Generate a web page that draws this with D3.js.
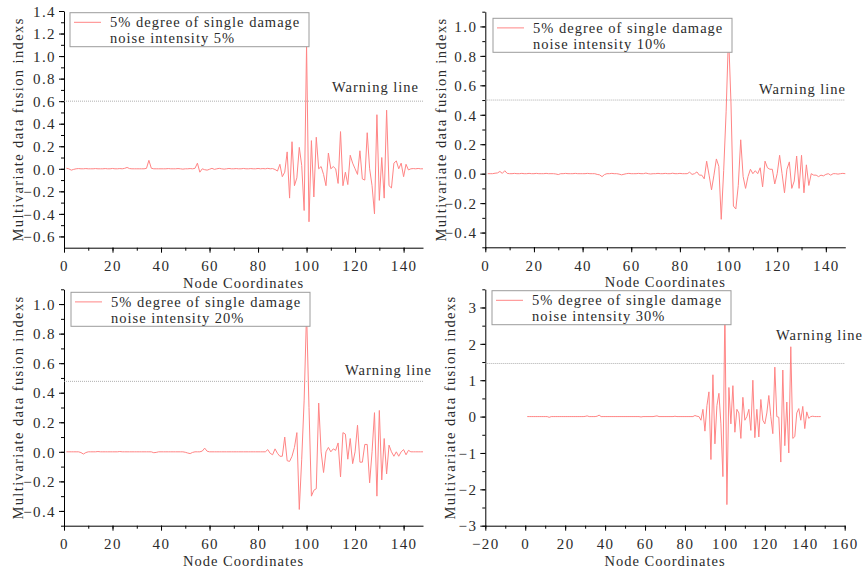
<!DOCTYPE html>
<html>
<head>
<meta charset="utf-8">
<script src="https://cdn.jsdelivr.net/npm/d3@7"></script>
<style>
  body { margin: 0; background: #fff; }
  text { font-family: "Liberation Serif", "DejaVu Serif", serif; fill: #2b2b2b; }
  .axis path, .axis line { stroke: #000; }
  .axis text { font-size: 15px; letter-spacing: 1.4px; }
  .lbl { font-size: 14.5px; letter-spacing: 1px; }
  .ytitle { font-size: 14.5px; letter-spacing: 1.4px; }
</style>
</head>
<body>
<div id="chart"></div>
<script>
// Node index runs 1..148 in every panel
var nodeCount = 148;

// Panel titles / legend text
var legendTitle = "5% degree of single damage";
var noiseLabels = ["noise intensity 5%", "noise intensity 10%", "noise intensity 20%", "noise intensity 30%"];
var warningLevels = [0.6, 0.5, 0.477, 1.46];

// Fusion index values (node 1 .. 148)
var noise5 = [
  0.005, 0, -0.012, -0.005, 0, 0.002, 0, 0, 0.002, 0,
  0, 0, 0.002, 0, 0, 0, 0.002, 0, 0, 0.003,
  0, 0, 0.002, 0, 0.004, 0.012, 0.002, 0, 0, 0,
  0, 0, 0, 0.004, 0.075, 0.005, 0, 0, 0, 0,
  0, 0, 0.002, 0, 0, 0, 0.002, 0, -0.003, 0,
  0, 0.002, 0, 0.004, 0.05, -0.03, 0, -0.008, -0.012, -0.004,
  0.004, -0.005, 0, 0.004, 0, -0.003, 0, 0.003, 0, 0,
  0.002, 0, 0, 0.003, 0, 0, 0.002, 0, 0, 0.003,
  0, 0.002, 0, 0.004, 0, 0.002, -0.006, -0.02, 0.04, -0.07,
  -0.03, 0.15, -0.26, 0.24, -0.15, -0.08, 0.19, 0.03, -0.37, 1.1,
  -0.47, 0.25, -0.25, 0.28, 0.0, 0.02, -0.05, -0.15, 0.14, 0.0,
  0.02, 0.0, -0.13, 0.33, -0.15, -0.03, -0.14, 0.12, 0.05, 0.0,
  -0.05, 0.16, -0.09, -0.1, 0.32, 0.0, -0.15, -0.4, 0.48, -0.28,
  0.1, -0.26, 0.52, -0.15, -0.17, 0.05, 0.07, 0.0, 0.05, -0.07,
  0.04, -0.01, 0.0, 0.002, 0, 0.003, 0, 0
];

var noise10 = [
  0, 0, 0, 0.003, 0.005, 0.015, 0.002, 0.02, 0.002, 0,
  0, 0.002, 0, 0, 0.002, 0, 0, 0.002, 0, 0,
  0.002, 0, 0, 0, 0.002, 0, 0, 0, -0.002, -0.006,
  0, 0, 0.002, 0, 0, 0, 0.002, 0, 0, 0,
  0, 0.002, 0, 0, 0, -0.005, -0.008, -0.02, -0.006, 0,
  0, 0.002, 0, 0, -0.003, -0.008, -0.004, 0, 0.002, 0,
  0, 0, 0.002, 0, 0, 0.004, 0, -0.002, 0, 0,
  0.002, 0, 0, 0.002, 0, 0, 0.003, 0, 0, 0.002,
  0, 0, 0, 0.01, -0.005, 0, 0.012, -0.01, -0.01, -0.035,
  0.085, -0.01, -0.11, -0.01, 0.1, 0.05, -0.31, 0.02, 0.42, 0.95,
  0.48, -0.22, -0.24, -0.08, 0.23, -0.02, -0.1, -0.02, 0.03, 0.0,
  0.02, 0.0, 0.04, -0.09, 0.085, 0.04, 0.03, 0.03, -0.07, 0.0,
  0.125, 0.0, -0.13, 0.03, 0.08, -0.1, -0.05, 0.12, -0.1, 0.125,
  -0.13, 0.06, -0.08, 0.0, -0.01, -0.01, -0.02, -0.01, -0.015, -0.005,
  0.0, -0.01, 0.0, 0.0, -0.003, 0.0, 0.002, 0
];

var noise20 = [
  0, 0, 0, 0, 0, 0, -0.005, -0.015, -0.005, 0,
  0, 0, 0, 0.002, 0, 0, 0, 0, 0, 0,
  0, 0, 0.002, 0, 0, 0, 0, 0, 0, 0,
  0, 0, 0, 0, 0, 0, -0.006, -0.004, 0, 0,
  0, 0, 0, 0, 0, 0, 0, 0, 0, -0.003,
  -0.008, -0.012, -0.004, 0, 0, 0, 0.005, 0.025, 0.004, 0,
  0, 0, 0, 0, 0, 0, 0, 0, 0, 0,
  0, 0, 0, 0, 0, 0, 0, 0, 0, 0,
  0, 0, 0, 0.015, -0.01, -0.02, 0.02, -0.01, -0.03, -0.03,
  0.1, -0.06, -0.065, -0.03, 0.03, 0.13, -0.39, -0.05, 0.35, 0.95,
  0.3, -0.3, -0.26, -0.25, 0.33, 0.0, -0.14, 0.0, 0.03, 0.0,
  0.02, 0.01, 0.06, -0.17, 0.13, 0.12, -0.05, 0.09, -0.08, 0.0,
  0.18, -0.07, -0.07, 0.05, 0.05, -0.21, 0.0, 0.265, -0.3, 0.28,
  -0.19, 0.09, -0.15, 0.045, 0.0, -0.03, 0.0, -0.03, 0.0, 0.015,
  -0.02, 0.01, 0.0, 0, 0, 0, 0, 0
];

var noise30 = [
  0, 0, 0, 0, 0, 0, 0, 0, 0, 0,
  0, -0.02, 0, 0, 0, 0, 0, 0, 0, 0,
  0, 0, 0, 0, 0, 0, 0, 0, 0, 0.005,
  0.02, 0, 0, 0, 0, 0.01, 0.04, 0, 0, 0,
  0, 0, 0, 0, 0, 0, 0, 0, 0, 0,
  0, 0, 0, 0, 0, 0, 0, -0.01, 0, 0,
  0, 0, 0, 0, 0.01, 0.02, 0, 0, 0, 0,
  0, 0, 0, 0, 0.01, 0, 0, 0, 0, 0,
  0, 0, 0, 0, 0.03, 0.01, 0.0, -0.1, 0.2, -0.4,
  0.3, 0.68, -1.18, 1.15, -0.75, 0.3, 0.64, -0.2, -1.65, 3.0,
  -2.42, 0.8, -0.2, 0.85, -0.43, 0.2, 0.1, -0.6, 0.53, -0.1,
  0.0, 0.2, -0.38, 1.0, -0.58, 0.2, -0.56, 0.47, -0.1, -0.2,
  0.1, 0.58, 0.0, -0.47, 1.36, 0.0, -0.02, -1.25, 1.28, -0.8,
  0.4, -1.0, 1.92, -0.6, -0.55, 0.1, 0.22, -0.1, 0.28, -0.33,
  0.13, -0.05, 0.0, 0.01, 0, 0, 0, 0
];

// Tick values
var xTicks = [0, 20, 40, 60, 80, 100, 120, 140];
var xTicksWide = [-20, 0, 20, 40, 60, 80, 100, 120, 140, 160];
var yTicks1 = [-0.6, -0.4, -0.2, 0, 0.2, 0.4, 0.6, 0.8, 1.0, 1.2, 1.4];
var yTicks2 = [-0.4, -0.2, 0, 0.2, 0.4, 0.6, 0.8, 1.0];
var yTicks4 = [-3, -2, -1, 0, 1, 2, 3];

var svgWidth = 864;
var svgHeight = 572;

var svg = d3.select("#chart")
    .append("svg")
    .attr("width", svgWidth)
    .attr("height", svgHeight);

// panel layout (pixel boxes of each plot area)
var panels = [
  { left: 64, right: 423, top: 11, bottom: 247.7, xDom: [0, 148], yDom: [-0.7, 1.4],
    xt: xTicks, xStep: 10, yt: yTicks1, yStep: 0.1, fmt: ".1f", values: noise5,
    legend: [6, 1.7], warnText: [419, 92], titleOff: 46 },
  { left: 485.3, right: 845.3, top: 11.7, bottom: 247.3, xDom: [0, 148], yDom: [-0.5, 1.1],
    xt: xTicks, xStep: 10, yt: yTicks2, yStep: 0.1, fmt: ".1f", values: noise10,
    legend: [7.7, 6.6], warnText: [846, 94], titleOff: 44 },
  { left: 64, right: 423, top: 289.3, bottom: 525.7, xDom: [0, 148], yDom: [-0.5, 1.1],
    xt: xTicks, xStep: 10, yt: yTicks2, yStep: 0.1, fmt: ".1f", values: noise20,
    legend: [7, 3], warnText: [432, 375], titleOff: 46 },
  { left: 485.3, right: 844.7, top: 289.3, bottom: 525.7, xDom: [-20, 160], yDom: [-3, 3.5],
    xt: xTicksWide, xStep: 10, yt: yTicks4, yStep: 0.5, fmt: "d", values: noise30,
    legend: [6.7, 1.4], warnText: [863, 340], titleOff: 35 }
];

panels.forEach(function (p, i) {
    var w = p.right - p.left;
    var h = p.bottom - p.top;
    var g = svg.append("g").attr("transform", `translate(${p.left}, ${p.top})`);

    var x = d3.scaleLinear().domain(p.xDom).range([0, w]);
    var y = d3.scaleLinear().domain(p.yDom).range([h, 0]);

    var data = p.values.map(function (v, k) { return { node: k + 1, value: v }; });

    // minor ticks first
    var xMinor = d3.range(p.xDom[0], p.xDom[1] + 0.001, p.xStep);
    var yMinor = d3.range(Math.ceil(p.yDom[0] / p.yStep) * p.yStep, p.yDom[1] + 1e-6, p.yStep);

    g.append("g").attr("class", "axis")
        .attr("transform", `translate(0, ${h})`)
        .call(d3.axisBottom(x).tickValues(xMinor).tickSize(3).tickFormat(""))
        .select("path").remove();
    g.append("g").attr("class", "axis")
        .call(d3.axisLeft(y).tickValues(yMinor).tickSize(3).tickFormat(""))
        .select("path").remove();

    // major axes
    g.append("g").attr("class", "axis")
        .attr("transform", `translate(0, ${h})`)
        .call(d3.axisBottom(x).tickValues(p.xt).tickSize(5).tickSizeOuter(0).tickPadding(4))
        .selectAll("text").attr("dy", "0.95em");
    g.append("g").attr("class", "axis")
        .call(d3.axisLeft(y).tickValues(p.yt).tickSize(5).tickSizeOuter(0).tickPadding(3)
            .tickFormat(d3.format(p.fmt)))
        .selectAll("text").attr("dy", "0.35em");

    // warning line
    g.append("line")
        .attr("x1", 0).attr("x2", w)
        .attr("y1", y(warningLevels[i])).attr("y2", y(warningLevels[i]))
        .attr("stroke", "#9a9a9a")
        .attr("stroke-width", 0.8)
        .attr("stroke-dasharray", "1,1");

    // data line
    var line = d3.line()
        .x(function (d) { return x(d.node); })
        .y(function (d) { return y(d.value); });
    g.append("path")
        .datum(data)
        .attr("fill", "none")
        .attr("stroke", "#ff8585")
        .attr("stroke-width", 1)
        .attr("d", line);

    // legend box
    var lg = g.append("g").attr("transform", `translate(${p.legend[0]}, ${p.legend[1]})`);
    lg.append("rect")
        .attr("width", 239).attr("height", 34)
        .attr("fill", "#fff")
        .attr("stroke", "#9c9c9c")
        .attr("stroke-width", 1);
    lg.append("line")
        .attr("x1", 4).attr("x2", 31).attr("y1", 9.6).attr("y2", 9.6)
        .attr("stroke", "#ff8585").attr("stroke-width", 1);
    lg.append("text").attr("class", "lbl").attr("x", 40).attr("y", 14.5)
        .text(legendTitle);
    lg.append("text").attr("class", "lbl").attr("x", 40).attr("y", 30.5)
        .text(noiseLabels[i]);

    // axis titles
    g.append("text").attr("class", "lbl")
        .attr("x", w / 2).attr("y", h + 40)
        .attr("text-anchor", "middle")
        .text("Node Coordinates");
    g.append("text").attr("class", "ytitle")
        .attr("transform", `translate(${-p.titleOff + 5}, ${h / 2}) rotate(-90)`)
        .attr("text-anchor", "middle")
        .text("Multivariate data fusion indexs");

    // warning label
    svg.append("text").attr("class", "lbl")
        .attr("x", p.warnText[0]).attr("y", p.warnText[1])
        .attr("text-anchor", "end")
        .text("Warning line");
});
</script>
</body>
</html>
